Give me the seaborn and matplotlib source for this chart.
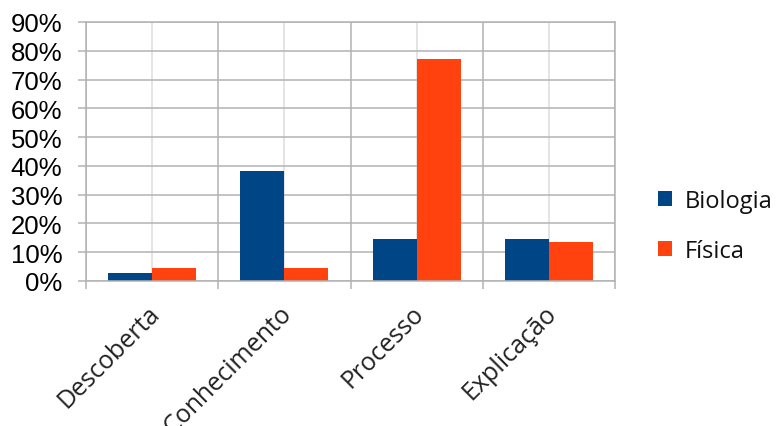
import matplotlib
matplotlib.use("Agg")
import matplotlib.pyplot as plt
import matplotlib.transforms as mtransforms
import seaborn as sns
import pandas as pd
from matplotlib.patches import Patch
from matplotlib.ticker import FixedLocator, PercentFormatter

categories = ["Descoberta", "Conhecimento", "Processo", "Explicação"]
biologia = [2.9, 38.1, 14.7, 14.7]
fisica = [4.5, 4.5, 77.1, 13.5]
series_names = ["Biologia", "Física"]
colors = ["#004586", "#ff420e"]
yticks = [0, 10, 20, 30, 40, 50, 60, 70, 80, 90]

df = pd.DataFrame({
    "cat": categories * 2,
    "val": biologia + fisica,
    "serie": [series_names[0]] * 4 + [series_names[1]] * 4,
})

sns.set_theme(style="white")
fig = plt.figure(figsize=(7.76, 4.27), dpi=100)
ax = fig.add_axes([86 / 776, 1 - 282 / 427, (615 - 86) / 776, (282 - 23) / 427])

sns.barplot(data=df, x="cat", y="val", hue="serie", palette=colors, order=categories,
            hue_order=series_names, width=2 / 3, saturation=1, ax=ax, legend=False,
            edgecolor="none", linewidth=0)

ax.set_xlim(-0.5, 3.5)
ax.set_ylim(0, 90)
ax.set_yticks(yticks)
ax.yaxis.set_major_formatter(PercentFormatter(decimals=0))
ax.set_xlabel("")
ax.set_ylabel("")

ax.xaxis.set_minor_locator(FixedLocator([-0.5, 0.5, 1.5, 2.5, 3.5]))
ax.set_axisbelow(True)
ax.grid(True, axis="y", color="#b3b3b3", linewidth=1.1)
ax.grid(True, axis="x", which="major", color="#dddddd", linewidth=1.1)
ax.grid(True, axis="x", which="minor", color="#b3b3b3", linewidth=1.1)

for s in ax.spines.values():
    s.set_color("#b3b3b3")
    s.set_linewidth(1.1)

ax.tick_params(axis="x", which="major", length=0, pad=14)
ax.tick_params(axis="x", which="minor", length=6, color="#b3b3b3", width=1.1, direction="out", bottom=True)
ax.tick_params(axis="y", length=6, color="#b3b3b3", width=1.1, direction="out", left=True, pad=11)

for lbl in ax.get_yticklabels():
    lbl.set_fontfamily("Liberation Sans")
    lbl.set_fontsize(18.5)
    lbl.set_color("#000000")

ax.set_xticks(range(len(categories)))
ax.set_xticklabels(categories, rotation=45, ha="right", rotation_mode="anchor",
                   fontfamily="Open Sans", fontsize=18, color="#222222")
offset = mtransforms.ScaledTranslation(-5 / 100, 0, fig.dpi_scale_trans)
for lbl in ax.get_xticklabels():
    lbl.set_transform(lbl.get_transform() + offset)

handles = [Patch(facecolor=c, edgecolor="none") for c in colors]
leg = fig.legend(handles, series_names, loc="center left", bbox_to_anchor=(658 / 776, 1 - 227 / 427),
                 frameon=False, prop={"family": "Open Sans", "size": 17},
                 borderpad=0, borderaxespad=0,
                 handlelength=0.6, handleheight=0.6, handletextpad=0.55, labelspacing=1.1)
for t in leg.get_texts():
    t.set_color("#111111")

fig.savefig("out.png", dpi=100)
